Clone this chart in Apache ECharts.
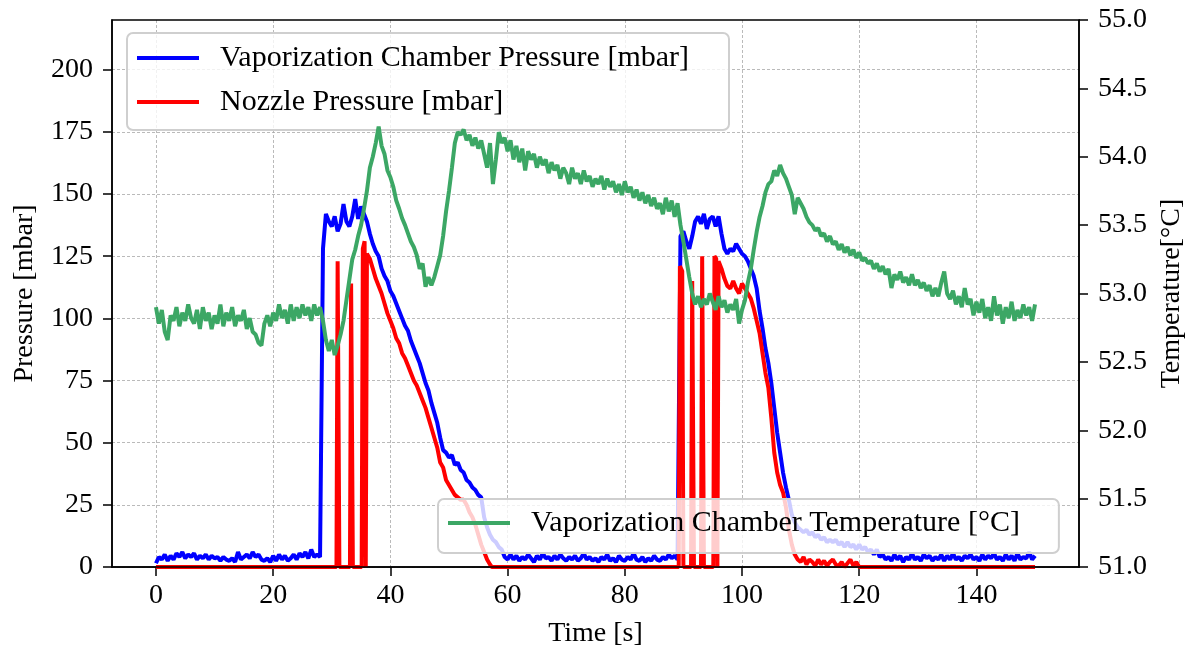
<!DOCTYPE html>
<html>
<head>
<meta charset="utf-8">
<script src="https://cdn.jsdelivr.net/npm/echarts@6/dist/echarts.min.js"></script>
<style>
html,body{margin:0;padding:0;background:#fff;}
#chart{width:1193px;height:647px;}
</style>
</head>
<body>
<div id="chart"></div>
<script>
// ---- data ----
const sampleStep = 0.5; // seconds between samples of the chamber series (t = 0 ... 150)

// Vaporization chamber pressure [mbar], one value every 0.5 s from t = 0 s
const chamberPressure = [
  1.5, 4, 3, 5, 2.5, 4.5, 3, 5.5, 4, 6,            // 0 - 4.5
  3.5, 5, 4, 5.5, 3, 4.5, 3.5, 5, 3, 4.5,          // 5 - 9.5
  3.5, 4, 2.5, 4, 3, 2.5, 3.5, 2, 6, 3,            // 10 - 14.5
  4, 5, 3.5, 6, 4, 5, 3, 2.5, 3.5, 2,              // 15 - 19.5
  4.5, 2.5, 5, 3, 4.5, 2.5, 3.5, 5, 3, 5.5,        // 20 - 24.5
  4, 6, 3.5, 7, 4, 5, 4, 128, 142, 139,            // 25 - 29.5
  137, 141, 135, 138, 146, 139, 137, 141, 148, 140, // 30 - 34.5
  145, 142, 139, 134, 130, 127, 125, 120, 117, 115, // 35 - 39.5
  111, 109, 106, 103, 100, 97, 95, 91, 88, 85,     // 40 - 44.5
  82, 78, 74, 71, 66, 62, 58, 52, 47, 46,          // 45 - 49.5
  44, 45, 41, 42, 39, 38, 35, 34, 32, 31,          // 50 - 54.5
  29, 28, 20, 16, 13, 11, 10, 8, 7, 4,             // 55 - 59.5
  3, 5, 3, 4.5, 2.5, 4, 3, 5, 3.5, 2,              // 60 - 64.5
  4.5, 3, 5.5, 3.5, 4, 2.5, 4.5, 3, 5, 3.5,        // 65 - 69.5
  2.5, 4, 3, 4.5, 2.5, 3.5, 5.5, 3, 4, 2.5,        // 70 - 74.5
  3.5, 2, 4, 3, 5, 2.5, 3.5, 2, 4.5, 3,            // 75 - 79.5
  2.5, 4, 3, 5.5, 3, 2.5, 4, 2, 3.5, 2.5,          // 80 - 84.5
  4.5, 3, 2.5, 4, 3, 5, 3.5, 4.5, 3, 133,          // 85 - 89.5
  135, 131, 128, 133, 139, 141, 138, 142, 136, 140, // 90 - 94.5
  141, 137, 141, 134, 128, 126, 128, 127, 130, 128, // 95 - 99.5
  126, 125, 123, 120, 117, 112, 103, 96, 88, 82,   // 100 - 104.5
  74, 64, 54, 46, 38, 32, 27, 21, 18, 16,          // 105 - 109.5
  15, 14, 15, 13, 14, 12, 13, 11, 12, 10,          // 110 - 114.5
  11, 10, 11, 9, 10, 8, 10, 8, 9, 7,               // 115 - 119.5
  9, 7, 8, 6, 7, 5, 7, 4, 5, 3,                    // 120 - 124.5
  4, 2.5, 5, 3, 4.5, 2, 4, 3, 5.5, 3,              // 125 - 129.5
  4, 2.5, 5, 3.5, 4.5, 2.5, 4, 3, 5, 2.5,          // 130 - 134.5
  4.5, 3, 5.5, 3, 4, 2.5, 4.5, 3.5, 5, 3,          // 135 - 139.5
  4, 2.5, 5, 3, 4.5, 3.5, 5.5, 3, 4, 2.5,          // 140 - 144.5
  5, 3, 4.5, 2.5, 5.5, 3, 4, 3.5, 6, 3,            // 145 - 149.5
  4.5                                              // 150
];

// Vaporization chamber temperature [°C], one value every 0.5 s from t = 0 s
const chamberTemp = [
  52.90, 52.78, 52.88, 52.72, 52.66, 52.84, 52.80, 52.90, 52.76, 52.86, // 0
  52.80, 52.92, 52.82, 52.78, 52.88, 52.74, 52.90, 52.80, 52.86, 52.74, // 5
  52.84, 52.78, 52.92, 52.76, 52.86, 52.80, 52.90, 52.76, 52.84, 52.80, // 10
  52.88, 52.74, 52.82, 52.72, 52.70, 52.64, 52.62, 52.78, 52.84, 52.76, // 15
  52.86, 52.80, 52.92, 52.82, 52.88, 52.78, 52.92, 52.80, 52.90, 52.82, // 20
  52.92, 52.84, 52.90, 52.80, 52.92, 52.84, 52.90, 52.80, 52.66, 52.58, // 25
  52.66, 52.55, 52.62, 52.70, 52.80, 52.95, 53.10, 53.25, 53.32, 53.42, // 30
  53.50, 53.62, 53.75, 53.92, 54.00, 54.10, 54.22, 54.08, 54.02, 53.90, // 35
  53.85, 53.78, 53.68, 53.62, 53.55, 53.50, 53.44, 53.38, 53.34, 53.28, // 40
  53.18, 53.22, 53.05, 53.12, 53.06, 53.12, 53.20, 53.28, 53.42, 53.60, // 45
  53.75, 53.92, 54.10, 54.18, 54.16, 54.20, 54.12, 54.16, 54.08, 54.14, // 50
  54.06, 54.12, 54.02, 53.92, 54.10, 53.80, 53.98, 54.18, 54.10, 54.14, // 55
  54.04, 54.12, 53.98, 54.08, 53.96, 54.06, 53.90, 54.04, 53.98, 54.02, // 60
  53.92, 54.00, 53.94, 53.98, 53.88, 53.96, 53.90, 53.94, 53.84, 53.92, // 65
  53.88, 53.80, 53.92, 53.84, 53.88, 53.80, 53.90, 53.82, 53.86, 53.78, // 70
  53.84, 53.80, 53.86, 53.76, 53.84, 53.78, 53.82, 53.74, 53.80, 53.72, // 75
  53.82, 53.74, 53.78, 53.70, 53.76, 53.68, 53.74, 53.66, 53.72, 53.64, // 80
  53.70, 53.62, 53.66, 53.58, 53.70, 53.60, 53.68, 53.56, 53.66, 53.50, // 85
  53.38, 53.25, 53.12, 53.00, 52.92, 52.98, 52.90, 52.96, 52.92, 53.00, // 90
  52.94, 52.88, 52.98, 52.90, 52.95, 52.86, 52.92, 52.88, 52.96, 52.78, // 95
  52.88, 52.95, 53.08, 53.18, 53.32, 53.45, 53.56, 53.64, 53.74, 53.80, // 100
  53.82, 53.90, 53.86, 53.94, 53.88, 53.84, 53.78, 53.72, 53.58, 53.70, // 105
  53.66, 53.62, 53.56, 53.52, 53.50, 53.46, 53.48, 53.42, 53.44, 53.38, // 110
  53.42, 53.36, 53.38, 53.32, 53.36, 53.30, 53.34, 53.28, 53.32, 53.26, // 115
  53.30, 53.24, 53.26, 53.22, 53.24, 53.18, 53.22, 53.16, 53.20, 53.14, // 120
  53.18, 53.04, 53.14, 53.10, 53.16, 53.08, 53.12, 53.06, 53.14, 53.06, // 125
  53.10, 53.04, 53.08, 53.02, 53.06, 52.98, 53.04, 52.98, 53.08, 53.16, // 130
  53.00, 52.96, 53.02, 52.92, 52.98, 52.90, 53.04, 52.92, 52.96, 52.84, // 135
  52.94, 52.86, 52.96, 52.82, 52.90, 52.80, 52.98, 52.84, 52.92, 52.78, // 140
  52.90, 52.82, 52.94, 52.80, 52.88, 52.82, 52.92, 52.84, 52.90, 52.80, // 145
  52.92                                                                 // 150
];

// Nozzle pressure [mbar]: irregular sample times (s) and values
const nozzleTimes = [
  0, 30.8, 31.0, 31.3, 33.1, 33.3, 33.6, 35.1, 35.3, 35.6, 35.8,
  36.0, 36.5, 37, 37.5, 38, 38.5, 39, 39.5, 40, 40.5, 41, 41.5, 42, 42.5,
  43, 43.5, 44, 44.5, 45, 45.5, 46, 46.5, 47, 47.5, 48, 48.5, 49, 49.5,
  50, 50.5, 51, 51.5, 52, 52.5, 53, 53.5, 54, 54.5, 55, 55.5, 56, 56.5, 57, 57.3,
  89.2, 89.4, 89.8, 90.0, 91.3, 91.5, 91.8, 93.0, 93.2, 93.5, 95.1, 95.3, 95.6, 95.8,
  96.0, 96.5, 97, 97.5, 98, 98.5, 99, 99.5, 100, 100.5, 101, 101.5, 102, 102.5,
  103, 103.5, 104, 104.5, 105, 105.5, 106, 106.5, 107, 107.5, 108, 108.5, 109, 109.5,
  110, 110.5, 111, 111.5, 112, 112.5, 113, 113.5, 114, 114.5, 115, 115.5, 116, 116.5,
  117, 117.5, 118, 118.5, 119, 119.5, 120, 150
];
const nozzlePressure = [
  0, 0, 123, 0, 0, 114, 0, 0, 128, 131, 0,
  126, 124, 120, 116, 113, 110, 106, 102, 99, 96, 92, 90, 86, 84,
  81, 78, 75, 73, 70, 67, 64, 60, 56, 52, 48, 42, 40, 35,
  33, 31, 29, 28, 27, 27, 25, 22, 20, 17, 13, 9, 6, 3, 1, 0,
  0, 121, 119, 0, 0, 115, 0, 0, 125, 0, 0, 125, 124, 0,
  123, 120, 116, 113, 112, 115, 112, 110, 114, 112, 110, 108, 104, 99,
  94, 86, 78, 72, 60, 46, 38, 33, 30, 24, 15, 9, 5, 3,
  2, 4, 1, 3, 2, 0.5, 3, 1, 2.5, 0.5, 2, 3, 1, 0.5,
  2, 0, 1.5, 3, 0.5, 2, 0, 0
];

// axis ticks
const timeTicks = [0, 20, 40, 60, 80, 100, 120, 140];
const pressureTicks = [0, 25, 50, 75, 100, 125, 150, 175, 200];
const tempTicks = [51.0, 51.5, 52.0, 52.5, 53.0, 53.5, 54.0, 54.5, 55.0];

const seriesNames = [
  'Vaporization Chamber Pressure [mbar]',
  'Nozzle Pressure [mbar]',
  'Vaporization Chamber Temperature [°C]'
];

// ---- build chart ----
const chamberPressurePts = chamberPressure.map((v, i) => [i * sampleStep, v]);
const chamberTempPts = chamberTemp.map((v, i) => [i * sampleStep, v]);
const nozzlePts = nozzleTimes.map((t, i) => [t, nozzlePressure[i]]);

const FONT = 'Liberation Serif';
const TICK_FS = 28;
const LEG_FS = 30;
const LW = 4;
const gridLine = { show: true, lineStyle: { color: '#a8a8a8', type: [3, 2], width: 0.8 } };
const axisLine = { show: true, onZero: false, lineStyle: { color: '#000', width: 1.5 } };
const legendCommon = {
  orient: 'vertical', icon: 'rect',
  itemWidth: 62, itemHeight: 4,
  backgroundColor: 'rgba(255,255,255,0.8)',
  borderColor: '#cfcfcf', borderWidth: 2, borderRadius: 6,
  selectedMode: false,
  textStyle: { fontFamily: FONT, fontSize: LEG_FS, color: '#000', lineHeight: 32, padding: [0, 0, 0, 16] }
};

const chart = echarts.init(document.getElementById('chart'), null, { renderer: 'canvas' });
chart.setOption({
  animation: false,
  backgroundColor: '#ffffff',
  textStyle: { fontFamily: FONT },
  grid: {
    left: 112, right: 114, top: 20, bottom: 80, containLabel: false, outerBoundsMode: 'none',
    show: true, z: 6, borderColor: '#000', borderWidth: 1.5, backgroundColor: 'transparent'
  },
  legend: [
    Object.assign({}, legendCommon, {
      data: [seriesNames[0], seriesNames[1]],
      left: 127, top: 33, z: 3, itemGap: 12,
      padding: [9, 40, 12, 10]
    }),
    Object.assign({}, legendCommon, {
      data: [seriesNames[2]],
      left: 438, top: 499, z: 5,
      padding: [8, 39, 14, 10]
    })
  ],
  xAxis: {
    type: 'value', min: -7.5, max: 157.5,
    name: 'Time [s]', nameLocation: 'middle', nameGap: 53,
    nameTextStyle: { fontFamily: FONT, fontSize: TICK_FS, color: '#000' },
    axisLine: axisLine,
    axisTick: { show: true, length: 9, lineStyle: { color: '#000', width: 1.5 }, customValues: timeTicks },
    axisLabel: { color: '#000', fontFamily: FONT, fontSize: TICK_FS, margin: 15, customValues: timeTicks },
    splitLine: gridLine
  },
  yAxis: [
    {
      type: 'value', min: 0, max: 220, position: 'left',
      name: 'Pressure [mbar]', nameLocation: 'middle', nameGap: 73,
      nameTextStyle: { fontFamily: FONT, fontSize: TICK_FS, color: '#000' },
      axisLine: axisLine,
      axisTick: { show: true, length: 9, lineStyle: { color: '#000', width: 1.5 }, customValues: pressureTicks },
      axisLabel: { color: '#000', fontFamily: FONT, fontSize: TICK_FS, margin: 19, customValues: pressureTicks },
      splitLine: gridLine
    },
    {
      type: 'value', min: 51, max: 55, interval: 0.5, position: 'right',
      name: 'Temperature[°C]', nameLocation: 'middle', nameGap: 78,
      nameTextStyle: { fontFamily: FONT, fontSize: TICK_FS, color: '#000' },
      axisLine: axisLine,
      axisTick: { show: true, length: 9, lineStyle: { color: '#000', width: 1.5 }, customValues: tempTicks },
      axisLabel: { color: '#000', fontFamily: FONT, fontSize: TICK_FS, margin: 19, customValues: tempTicks,
        formatter: v => Number(v).toFixed(1) },
      splitLine: { show: false }
    }
  ],
  series: [
    {
      name: seriesNames[0], type: 'line', data: chamberPressurePts, yAxisIndex: 0,
      showSymbol: false, symbol: 'none', z: 2, clip: true,
      lineStyle: { color: '#0000ff', width: LW }, itemStyle: { color: '#0000ff' }
    },
    {
      name: seriesNames[1], type: 'line', data: nozzlePts, yAxisIndex: 0,
      showSymbol: false, symbol: 'none', z: 2, clip: true,
      lineStyle: { color: '#ff0000', width: LW }, itemStyle: { color: '#ff0000' }
    },
    {
      name: seriesNames[2], type: 'line', data: chamberTempPts, yAxisIndex: 1,
      showSymbol: false, symbol: 'none', z: 4, clip: true,
      lineStyle: { color: '#3ca765', width: LW }, itemStyle: { color: '#3ca765' }
    }
  ]
});
</script>
</body>
</html>
